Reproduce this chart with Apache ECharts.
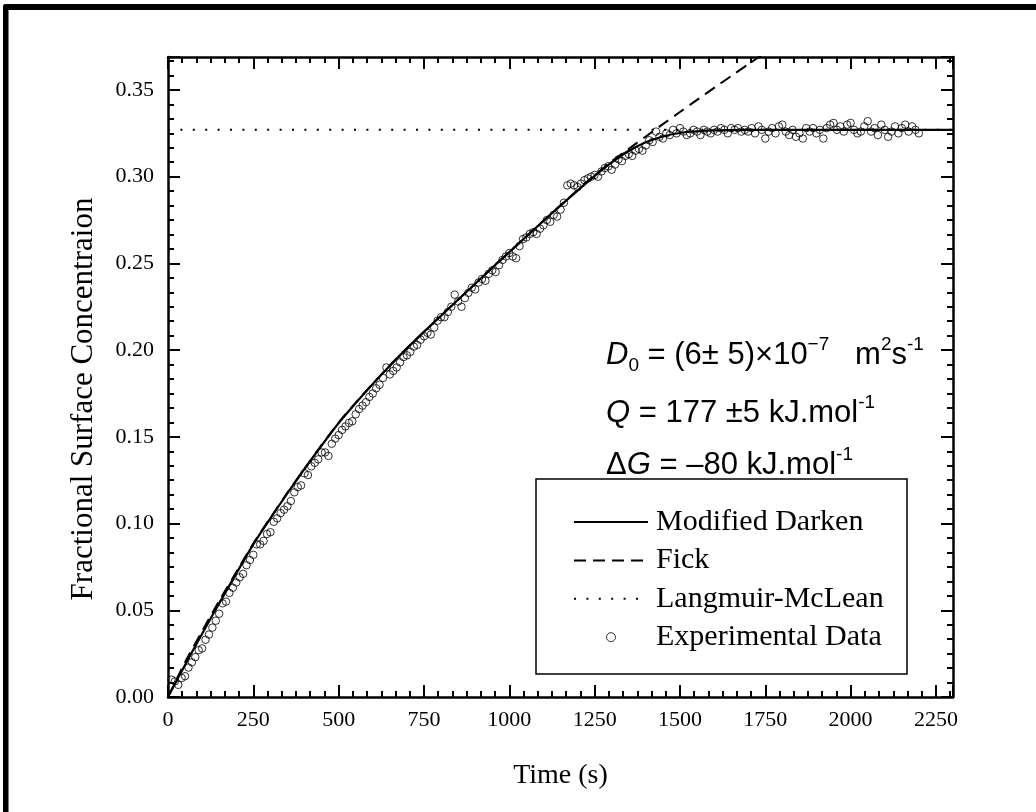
<!DOCTYPE html>
<html>
<head>
<meta charset="utf-8">
<script src="https://cdn.jsdelivr.net/npm/echarts/dist/echarts.min.js"></script>
<style>
  html, body { margin: 0; padding: 0; background: #fff; }
  #chart { width: 1036px; height: 812px; }
</style>
</head>
<body>
<div id="chart"></div>
<script>
// x axis ticks (s) and y axis ticks
const xTicks = [0, 250, 500, 750, 1000, 1250, 1500, 1750, 2000, 2250]
const yTicks = [0.00, 0.05, 0.10, 0.15, 0.20, 0.25, 0.30, 0.35]

// Experimental Data: [time (s), fractional surface concentration]
const expData = [
  [10,0.010],[20,0.009],[30,0.007],[40,0.011],[50,0.012],[60,0.017],[70,0.020],[80,0.023],[90,0.027],[100,0.028],
  [110,0.033],[120,0.036],[130,0.040],[140,0.044],[150,0.048],[160,0.054],[170,0.055],[180,0.060],[190,0.063],[200,0.066],
  [210,0.069],[220,0.071],[230,0.076],[240,0.079],[250,0.082],[260,0.088],[270,0.088],[280,0.090],[290,0.094],[300,0.095],
  [310,0.101],[320,0.103],[330,0.106],[340,0.108],[350,0.110],[360,0.113],[370,0.118],[380,0.121],[390,0.122],[400,0.129],
  [410,0.128],[420,0.133],[430,0.135],[440,0.137],[450,0.141],[460,0.141],[470,0.139],[480,0.146],[490,0.149],[500,0.151],
  [510,0.154],[520,0.156],[530,0.158],[540,0.159],[550,0.163],[560,0.166],[570,0.168],[580,0.170],[590,0.173],[600,0.175],
  [610,0.178],[620,0.180],[630,0.184],[640,0.190],[650,0.186],[660,0.188],[670,0.190],[680,0.193],[690,0.196],[700,0.197],
  [710,0.199],[720,0.202],[730,0.203],[740,0.206],[750,0.208],[760,0.210],[770,0.209],[780,0.213],[790,0.217],[800,0.219],
  [810,0.219],[820,0.222],[830,0.225],[840,0.232],[850,0.228],[860,0.225],[870,0.230],[880,0.233],[890,0.236],[900,0.235],
  [910,0.239],[920,0.241],[930,0.240],[940,0.244],[950,0.246],[960,0.245],[970,0.249],[980,0.252],[990,0.254],[1000,0.256],
  [1010,0.254],[1020,0.253],[1030,0.260],[1040,0.264],[1050,0.265],[1060,0.267],[1070,0.268],[1080,0.267],[1090,0.270],[1100,0.272],
  [1110,0.275],[1120,0.274],[1130,0.278],[1140,0.277],[1150,0.281],[1160,0.285],[1170,0.295],[1180,0.296],[1190,0.295],[1200,0.294],
  [1210,0.296],[1220,0.298],[1230,0.299],[1240,0.300],[1250,0.301],[1260,0.300],[1270,0.303],[1280,0.305],[1290,0.306],[1300,0.304],
  [1310,0.307],[1320,0.310],[1330,0.309],[1340,0.312],[1350,0.313],[1360,0.312],[1370,0.315],[1380,0.316],[1390,0.315],[1400,0.318],
  [1410,0.321],[1420,0.320],[1430,0.326],[1440,0.323],[1450,0.322],[1460,0.325],[1470,0.324],[1480,0.327],[1490,0.325],[1500,0.328],
  [1510,0.326],[1520,0.324],[1530,0.325],[1540,0.327],[1550,0.326],[1560,0.324],[1570,0.327],[1580,0.326],[1590,0.325],[1600,0.327],
  [1610,0.326],[1620,0.328],[1630,0.327],[1640,0.325],[1650,0.328],[1660,0.327],[1670,0.328],[1680,0.326],[1690,0.327],[1700,0.326],
  [1710,0.328],[1720,0.325],[1730,0.329],[1740,0.327],[1750,0.322],[1760,0.326],[1770,0.328],[1780,0.325],[1790,0.329],[1800,0.330],
  [1810,0.326],[1820,0.324],[1830,0.327],[1840,0.323],[1850,0.325],[1860,0.322],[1870,0.328],[1880,0.326],[1890,0.328],[1900,0.325],
  [1910,0.327],[1920,0.322],[1930,0.328],[1940,0.330],[1950,0.331],[1960,0.327],[1970,0.329],[1980,0.326],[1990,0.330],[2000,0.331],
  [2010,0.327],[2020,0.325],[2030,0.326],[2040,0.329],[2050,0.332],[2060,0.326],[2070,0.328],[2080,0.324],[2090,0.330],[2100,0.327],
  [2110,0.323],[2120,0.326],[2130,0.329],[2140,0.325],[2150,0.328],[2160,0.330],[2170,0.326],[2180,0.329],[2190,0.327],[2200,0.325]
]

// Modified Darken fit
const darkenData = [
  [0,0],[50,0.0185],[100,0.0365],[150,0.054],[200,0.0712],[250,0.088],[300,0.103],[350,0.1175],[400,0.1315],[450,0.145],
  [500,0.158],[550,0.1695],[600,0.1805],[650,0.191],[700,0.201],[750,0.2105],[800,0.2198],[850,0.229],[900,0.2383],[950,0.2475],
  [1000,0.2565],[1050,0.2655],[1100,0.2745],[1150,0.2833],[1200,0.292],[1250,0.3005],[1300,0.3083],[1350,0.3148],[1400,0.3198],
  [1450,0.3232],[1500,0.3252],[1550,0.3262],[1600,0.3267],[1700,0.327],[2300,0.327]
]

// Fick fit
const fickData = [
  [0,0],[50,0.020],[100,0.038],[150,0.0555],[200,0.072],[250,0.0885],[300,0.1033],[350,0.1178],[400,0.1317],[450,0.1452],
  [500,0.1582],[550,0.1697],[600,0.1806],[650,0.1911],[700,0.2011],[750,0.2106],[800,0.2199],[850,0.2291],[900,0.2383],[950,0.2475],
  [1000,0.2566],[1050,0.2656],[1100,0.2746],[1150,0.2835],[1200,0.2923],[1250,0.3009],[1300,0.3088],[1350,0.316],[1400,0.3232],
  [1450,0.3303],[1500,0.3373],[1550,0.3443],[1600,0.3512],[1650,0.358],[1700,0.3648],[1750,0.3715]
]

// Langmuir-McLean equilibrium level
const langmuirData = [[0,0.327],[2300,0.327]]

const chart = echarts.init(document.getElementById('chart'))

const serif = 'Liberation Serif'
const sans = 'Liberation Sans'

const axisCommon = {
  type: 'value',
  axisLine: { show: true, onZero: false, lineStyle: { color: '#000', width: 2.5 } },
  axisTick: { show: true, inside: true, length: 12, lineStyle: { color: '#000', width: 2 } },
  minorTick: { show: true, splitNumber: 6, length: 6, lineStyle: { color: '#000', width: 2 } },
  splitLine: { show: false },
  minorSplitLine: { show: false }
}

const eqRich = {
  t: { fontFamily: sans, fontSize: 31, color: '#000', lineHeight: 40 },
  i: { fontFamily: sans, fontSize: 31, fontStyle: 'italic', color: '#000', lineHeight: 40 },
  sup: { fontFamily: sans, fontSize: 19, color: '#000', lineHeight: 19, verticalAlign: 'top' },
  sub: { fontFamily: sans, fontSize: 19, color: '#000', lineHeight: 19, verticalAlign: 'bottom' }
}

const noSymbol = { color: 'rgba(0,0,0,0)', borderWidth: 0 }

const option = {
  animation: false,
  backgroundColor: '#fff',
  color: ['#000'],
  grid: { left: 168, right: 83, top: 57, bottom: 115 },
  xAxis: [
    Object.assign({}, axisCommon, {
      position: 'bottom',
      min: 0, max: 2300, interval: 250,
      axisLabel: {
        fontFamily: serif, fontSize: 22, color: '#000', margin: 12, showMaxLabel: false,
        formatter: v => xTicks.includes(v) ? String(v) : ''
      },
      name: 'Time (s)',
      nameLocation: 'middle',
      nameGap: 65,
      nameTextStyle: { fontFamily: serif, fontSize: 28, color: '#000' }
    }),
    Object.assign({}, axisCommon, {
      position: 'top',
      min: 0, max: 2300, interval: 250,
      axisLabel: { show: false }
    })
  ],
  yAxis: [
    Object.assign({}, axisCommon, {
      position: 'left',
      min: 0, max: 0.369, interval: 0.05,
      axisLabel: {
        fontFamily: serif, fontSize: 22, color: '#000', margin: 14, showMaxLabel: false,
        formatter: v => yTicks.some(t => Math.abs(t - v) < 1e-6) ? v.toFixed(2) : ''
      },
      name: 'Fractional Surface Concentraion',
      nameLocation: 'middle',
      nameGap: 69,
      nameTextStyle: { fontFamily: serif, fontSize: 31, color: '#000', padding: [0, 44, 0, 0] }
    }),
    Object.assign({}, axisCommon, {
      position: 'right',
      min: 0, max: 0.369, interval: 0.05,
      axisLabel: { show: false }
    })
  ],
  legend: {
    orient: 'vertical',
    left: 573,
    top: 507,
    padding: 0,
    itemWidth: 74,
    itemHeight: 9,
    itemGap: 8.4,
    selectedMode: false,
    textStyle: { fontFamily: serif, fontSize: 30, color: '#000', lineHeight: 30, padding: [0, 0, 0, 3] },
    data: [
      { name: 'Modified Darken', itemStyle: noSymbol },
      { name: 'Fick', itemStyle: noSymbol },
      { name: 'Langmuir-McLean', itemStyle: noSymbol },
      { name: 'Experimental Data', itemStyle: { color: 'rgba(0,0,0,0)', borderColor: '#000', borderWidth: 1 } }
    ]
  },
  graphic: [
    // figure frame (left & top)
    { type: 'rect', shape: { x: 3, y: 4, width: 5.5, height: 808, r: [3, 0, 0, 0] }, style: { fill: '#000' } },
    { type: 'rect', shape: { x: 3, y: 4, width: 1033, height: 6, r: [3, 0, 0, 0] }, style: { fill: '#000' } },
    // legend box
    { type: 'rect', z: 1, shape: { x: 536, y: 479, width: 371, height: 195 }, style: { fill: '#fff', stroke: '#000', lineWidth: 1.5 } },
    {
      type: 'text', left: 606, top: 335, z: 10,
      style: {
        text: '{i|D}{sub|0}{t| = (6± 5)×10}{sup|−7}{t|   m}{sup|2}{t|s}{sup|-1}',
        rich: eqRich
      }
    },
    {
      type: 'text', left: 606, top: 393, z: 10,
      style: {
        text: '{i|Q}{t| = 177 ±5 kJ.mol}{sup|-1}',
        rich: eqRich
      }
    },
    {
      type: 'text', left: 606, top: 445, z: 10,
      style: {
        text: '{t|Δ}{i|G}{t| = –80 kJ.mol}{sup|-1}',
        rich: eqRich
      }
    }
  ],
  series: [
    {
      name: 'Experimental Data',
      type: 'scatter',
      data: expData,
      symbol: 'circle',
      symbolSize: 7.5,
      itemStyle: { color: 'rgba(0,0,0,0)', borderColor: '#000', borderWidth: 1 },
      z: 2
    },
    {
      name: 'Modified Darken',
      type: 'line',
      data: darkenData,
      smooth: 0.3,
      symbol: 'none',
      itemStyle: { color: '#000' },
      lineStyle: { color: '#000', width: 2.2 },
      z: 3
    },
    {
      name: 'Fick',
      type: 'line',
      data: fickData,
      smooth: 0.3,
      symbol: 'none',
      itemStyle: { color: '#000' },
      lineStyle: { color: '#000', width: 2, type: [12, 7] },
      z: 3
    },
    {
      name: 'Langmuir-McLean',
      type: 'line',
      data: langmuirData,
      symbol: 'none',
      itemStyle: { color: '#000' },
      lineStyle: { color: '#000', width: 2, type: [2, 10.4] },
      z: 3
    }
  ]
}

chart.setOption(option)
</script>
</body>
</html>
